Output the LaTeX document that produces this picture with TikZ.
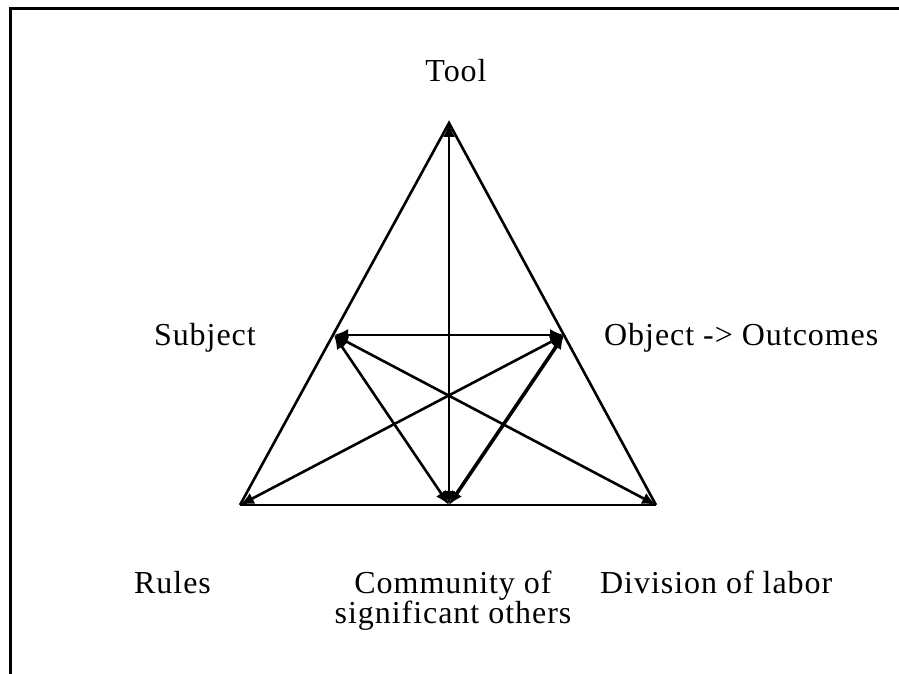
\documentclass[tikz,border=0pt]{standalone}
\usepackage{fontspec}
\setmainfont{Liberation Serif}[LetterSpace=3]
\usetikzlibrary{arrows.meta}
\begin{document}
\begin{tikzpicture}[x=1pt,y=-1pt,
  edge/.style={line width=2.6pt},
  link/.style={line width=2.6pt,{Latex[length=14pt,width=12pt]}-{Latex[length=14pt,width=12pt]}},
  thicklink/.style={link,line width=3.6pt},
  lbl/.style={inner sep=0pt,font=\fontsize{32}{30}\selectfont}]
\useasboundingbox (0,0) rectangle (899,674);
% frame
\draw[line width=3pt] (10,674) -- (10,9) -- (899,9);
% vertices
\coordinate (T) at (449,123);
\coordinate (S) at (334,335);
\coordinate (O) at (564,335);
\coordinate (R) at (240,505);
\coordinate (C) at (449,505);
\coordinate (D) at (656,505);
% triangle
\draw[edge,line join=miter] (R) -- (T) -- (D);
\draw[edge] (R) -- (D);
% connectors
\draw[link] (C) -- (T);
\draw[link] (S) -- (O);
\draw[link] (S) -- (C);
\draw[thicklink] (O) -- (C);
\draw[link] (S) -- (D);
\draw[link] (O) -- (R);
% labels
\node[lbl,anchor=base] (tool) at (456,82) {Tool};
\node[lbl,anchor=base east] (subj) at (256,345) {Subject};
\node[lbl,anchor=base west] (obj) at (604,345) {Object -> Outcomes};
\node[lbl,anchor=base west] (rules) at (134,593) {Rules};
\node[lbl,anchor=base,align=center] (comm) at (453,623) {Community of\\significant others};
\node[lbl,anchor=base west] (div) at (600,593) {Division of labor};
\end{tikzpicture}
\end{document}
